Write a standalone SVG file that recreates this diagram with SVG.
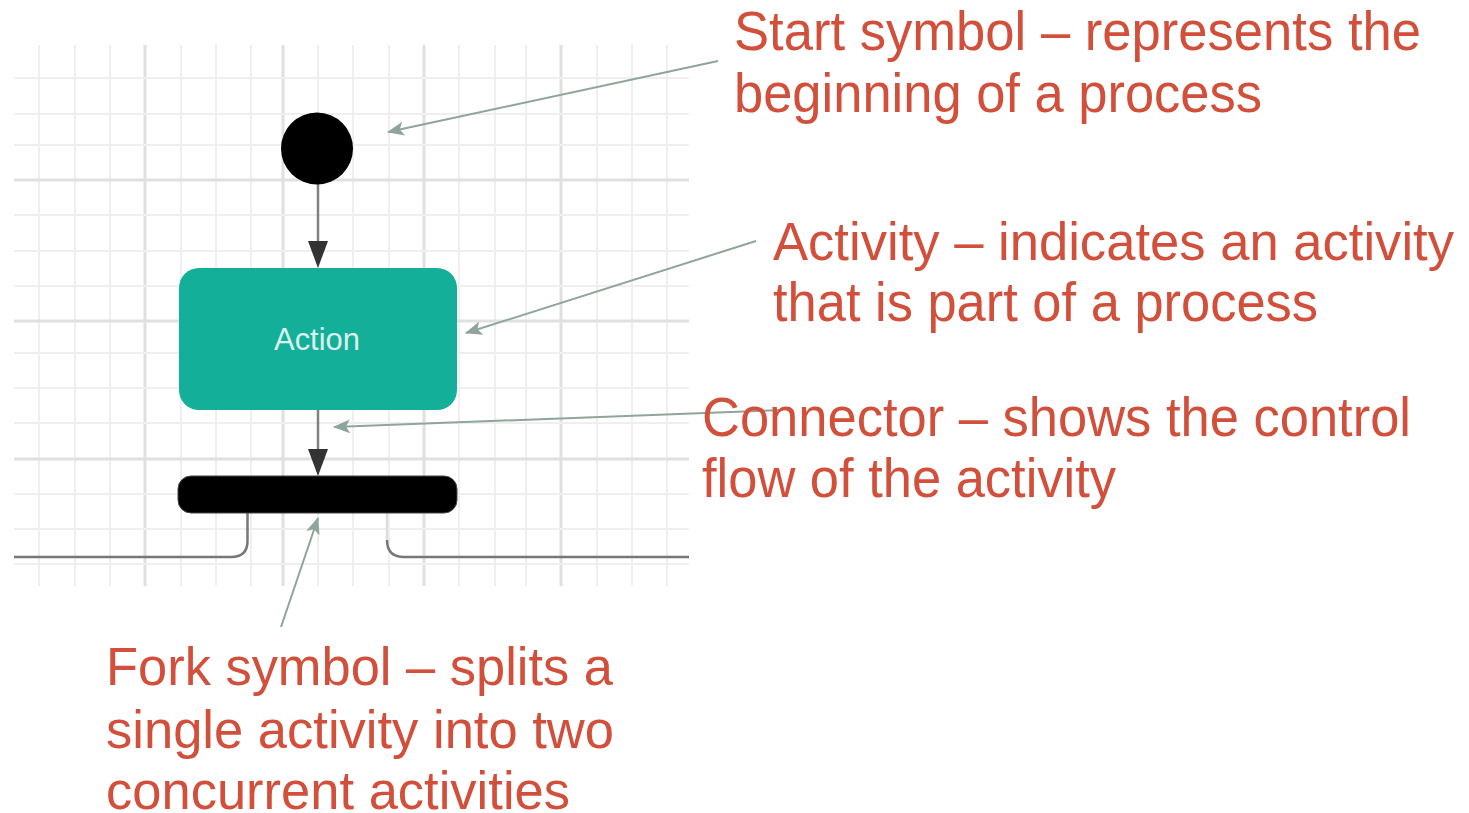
<svg xmlns="http://www.w3.org/2000/svg" width="1469" height="813" viewBox="0 0 1469 813">
<style>
.g1{stroke:#efefef;stroke-width:2;fill:none}
.g2{stroke:#e0e0e0;stroke-width:3;fill:none}
.flow{stroke:#808080;stroke-width:2.5;fill:none}
.ann{stroke:#8fa59a;stroke-width:2;fill:none}
.lbl{font-family:"Liberation Sans",Arial,sans-serif;font-size:53px;fill:#d2503b}
</style>
<defs>
<marker id="annHead" markerUnits="userSpaceOnUse" markerWidth="20" markerHeight="16" refX="16" refY="7" orient="auto">
<path d="M0,0 L17,7 L0,14 L4,7 Z" fill="#8fa59a"/>
</marker>
</defs>
<rect width="1469" height="813" fill="#ffffff"/>
<g id="grid">
<path class="g1" d="M39,45V586M75,45V586M110,45V586M181,45V586M216,45V586M251,45V586M318,45V586M353,45V586M389,45V586M459,45V586M495,45V586M526,45V586M597,45V586M632,45V586M667,45V586"/>
<path class="g2" d="M145,45V586M283,45V586M424,45V586M561,45V586"/>
<path class="g1" d="M14,78H689M14,114H689M14,145H689M14,215H689M14,251H689M14,286H689M14,353H689M14,388H689M14,423H689M14,494H689M14,529H689M14,564H689"/>
<path class="g2" d="M14,180H689M14,321H689M14,459H689"/>
</g>
<g id="connectors">
<line class="flow" x1="318" y1="184" x2="318" y2="243"/>
<path d="M308,241 L328,241 L318,268 Z" fill="#333"/>
<line class="flow" x1="318" y1="410" x2="318" y2="451"/>
<path d="M308,449 L328,449 L318,476 Z" fill="#333"/>
<path d="M247.5,513 V541 Q247.5,557 231,557 H14" stroke="#777" stroke-width="2.5" fill="none"/>
<path d="M387,513 V540" stroke="#dcdcdc" stroke-width="2.5" fill="none"/>
<path d="M387,540 Q387,557 404,557 H689" stroke="#777" stroke-width="2.5" fill="none"/>
</g>
<g id="start">
<circle cx="317" cy="148.5" r="36" fill="#000"/>
</g>
<g id="action">
<rect x="179" y="268" width="278" height="142" rx="20" fill="#14af98"/>
<text x="317" y="350" text-anchor="middle" font-family="'Liberation Sans',Arial,sans-serif" font-size="31" fill="#ffffff" fill-opacity="0.85" textLength="86" lengthAdjust="spacingAndGlyphs">Action</text>
</g>
<g id="fork">
<rect x="178" y="476" width="279" height="37" rx="13" fill="#000" stroke="#444" stroke-width="1"/>
</g>
<g id="annotations">
<line class="ann" x1="718" y1="61" x2="388" y2="132" marker-end="url(#annHead)"/>
<line class="ann" x1="756" y1="241" x2="466" y2="333" marker-end="url(#annHead)"/>
<line class="ann" x1="783" y1="410" x2="334" y2="427" marker-end="url(#annHead)"/>
<line class="ann" x1="281" y1="627" x2="318" y2="518" marker-end="url(#annHead)"/>
</g>
<g id="label-start">
<text class="lbl" x="734" y="50" textLength="687" lengthAdjust="spacingAndGlyphs" style="font-size:55px">Start symbol – represents the</text>
<text class="lbl" x="734" y="112" textLength="528" lengthAdjust="spacingAndGlyphs" style="font-size:55px">beginning of a process</text>
</g>
<g id="label-activity">
<text class="lbl" x="773" y="260" textLength="681" lengthAdjust="spacingAndGlyphs" style="font-size:53px">Activity – indicates an activity</text>
<text class="lbl" x="773" y="321" textLength="545" lengthAdjust="spacingAndGlyphs" style="font-size:55px">that is part of a process</text>
</g>
<g id="label-connector">
<text class="lbl" x="702" y="436" textLength="709" lengthAdjust="spacingAndGlyphs" style="font-size:55px">Connector – shows the control</text>
<text class="lbl" x="702" y="497" textLength="414" lengthAdjust="spacingAndGlyphs" style="font-size:55px">flow of the activity</text>
</g>
<g id="label-fork">
<text class="lbl" x="106" y="685" textLength="507" lengthAdjust="spacingAndGlyphs">Fork symbol – splits a</text>
<text class="lbl" x="106" y="748" textLength="508" lengthAdjust="spacingAndGlyphs">single activity into two</text>
<text class="lbl" x="106" y="809" textLength="464" lengthAdjust="spacingAndGlyphs">concurrent activities</text>
</g>
</svg>
